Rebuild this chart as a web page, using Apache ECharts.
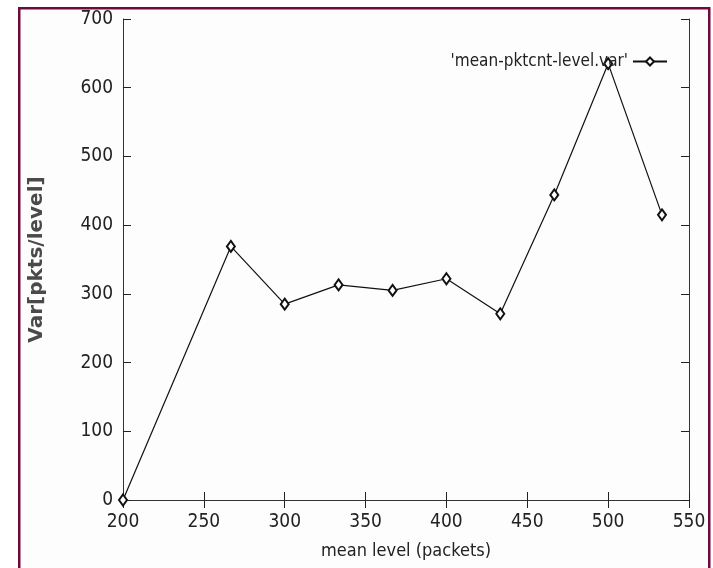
<!DOCTYPE html>
<html>
<head>
<meta charset="utf-8">
<script src="https://cdn.jsdelivr.net/npm/echarts@6/dist/echarts.min.js"></script>
<style>
html,body{margin:0;padding:0;background:#fff;}
#c{width:713px;height:568px;}
</style>
</head>
<body>
<div id="c"></div>
<script>
const seriesName = "'mean-pktcnt-level.var'";
const meanLevel = [200, 266.7, 300, 333.3, 366.7, 400, 433.3, 466.7, 500, 533.3];
const variance = [0, 369, 285, 313, 305, 322, 271, 444, 635, 415];
const xTicks = [200, 250, 300, 350, 400, 450, 500, 550];
const yTicks = [0, 100, 200, 300, 400, 500, 600, 700];
const xName = 'mean level (packets)';
const yName = 'Var[pkts/level]';

const FONT = '"DejaVu Sans Condensed", "Liberation Sans", sans-serif';
const chart = echarts.init(document.getElementById('c'));
const axisCommon = {
  axisLine: {show: true, lineStyle: {color: '#333', width: 1}},
  axisTick: {show: true, inside: true, length: 8, lineStyle: {color: '#222', width: 1}},
  splitLine: {show: false}
};
chart.setOption({
  animation: false,
  backgroundColor: '#fff',
  graphic: [{
    type: 'rect', left: 18, top: 7,
    shape: {width: 690, height: 580},
    style: {fill: '#fdfdfd', stroke: '#6e0a3e', lineWidth: 2.5},
    z: -10
  }],
  grid: {left: 123, right: 24, top: 19, bottom: 68},
  legend: {
    show: true,
    right: 40, top: 48,
    align: 'right',
    itemWidth: 34, itemHeight: 10, itemGap: 10,
    textStyle: {fontFamily: FONT, fontSize: 17, color: '#222'},
    data: [seriesName]
  },
  xAxis: [{
    type: 'value', min: xTicks[0], max: xTicks[xTicks.length - 1], interval: 50,
    name: xName, nameLocation: 'middle', nameGap: 42,
    nameTextStyle: {fontFamily: FONT, fontSize: 18, color: '#222'},
    axisLabel: {fontFamily: FONT, fontSize: 19, color: '#222', margin: 13},
    ...axisCommon
  }, {
    type: 'value', position: 'top', min: xTicks[0], max: xTicks[xTicks.length - 1], interval: 50,
    axisLabel: {show: false},
    ...axisCommon
  }],
  yAxis: [{
    type: 'value', min: yTicks[0], max: yTicks[yTicks.length - 1], interval: 100,
    name: yName, nameLocation: 'middle', nameGap: 76,
    nameTextStyle: {fontFamily: '"DejaVu Sans", sans-serif', fontSize: 20, fontWeight: 'bold', color: '#4a4a4a'},
    axisLabel: {fontFamily: FONT, fontSize: 19, color: '#222', margin: 10},
    ...axisCommon
  }, {
    type: 'value', position: 'right', min: yTicks[0], max: yTicks[yTicks.length - 1], interval: 100,
    axisLabel: {show: false},
    ...axisCommon
  }],
  series: [{
    name: seriesName,
    type: 'line',
    data: meanLevel.map((x, i) => [x, variance[i]]),
    symbol: 'emptyDiamond',
    symbolSize: [8, 11],
    showAllSymbol: true,
    lineStyle: {color: '#111', width: 1.2},
    itemStyle: {color: '#111', borderColor: '#111', borderWidth: 1},
    clip: false
  }]
});
</script>
</body>
</html>
